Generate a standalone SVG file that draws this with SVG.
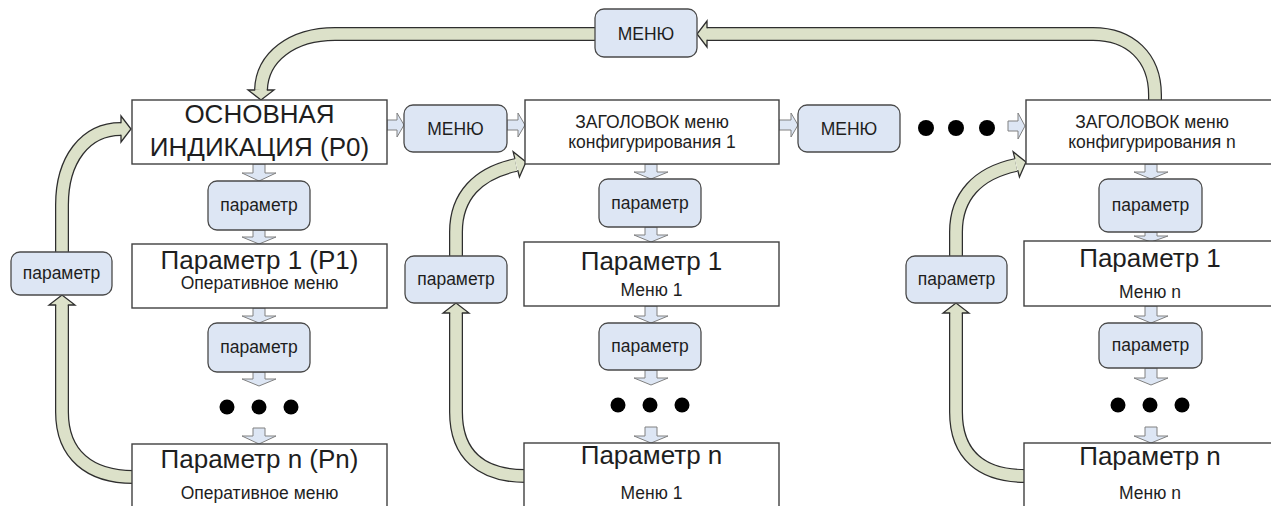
<svg xmlns="http://www.w3.org/2000/svg" width="1271" height="506" viewBox="0 0 1271 506">
<defs>
<style>
.box{fill:#ffffff;stroke:#404040;stroke-width:1.4}
.rb{fill:#dde6f4;stroke:#4a4a4a;stroke-width:1.3}
.ha{fill:#dde6f4;stroke:#808080;stroke-width:1}
.bo{fill:none;stroke:#2e2e2e;stroke-width:14}
.bi{fill:none;stroke:#dce1c9;stroke-width:11.5}
.bh{fill:#dce1c9;stroke:#2e2e2e;stroke-width:1.3;stroke-linejoin:miter}
.dot{fill:#000000}
text{font-family:"Liberation Sans",Arial,sans-serif;fill:#1e1e1e;text-anchor:middle}
.big{font-size:26px}
.mid{font-size:17.5px}
.sm{font-size:17.5px}
</style>
<path id="head" d="M -10 -5.8 L -10 -13 L 0 0 L -10 13 L -10 5.8"/>
</defs>

<g id="connectors">
  <!-- big return bands -->
  <path class="bo" d="M 1155 101 L 1155 95 C 1155 57 1130 34 1093 34 L 707 34"/>
  <path class="bi" d="M 1155 102 L 1155 95 C 1155 57 1130 34 1093 34 L 707 34"/>
  <use href="#head" class="bh" transform="translate(697 34) rotate(180)"/>
  <path class="bo" d="M 596 34 L 335 34 C 292 34 262 57 261 90"/>
  <path class="bi" d="M 597 34 L 335 34 C 292 34 262 57 261 90"/>
  <use href="#head" class="bh" transform="translate(261 100) rotate(90)"/>

  <!-- column 1 loop -->
  <path class="bo" d="M 133 477 C 90 477 62 455 62 412 L 62 305"/>
  <path class="bi" d="M 134 477 C 90 477 62 455 62 412 L 62 305"/>
  <use href="#head" class="bh" transform="translate(62 295) rotate(-90)"/>
  <path class="bo" d="M 62 253 L 62 205 C 62 160 85 129 121 129"/>
  <path class="bi" d="M 62 254 L 62 205 C 62 160 85 129 121 129"/>
  <use href="#head" class="bh" transform="translate(131 129)"/>

  <!-- column 2 loop -->
  <path class="bo" d="M 525 476 C 482 476 456 455 456 412 L 456 313"/>
  <path class="bi" d="M 526 476 C 482 476 456 455 456 412 L 456 313"/>
  <use href="#head" class="bh" transform="translate(456 303) rotate(-90)"/>
  <path class="bo" d="M 456 257 L 456 232 C 456 196 478 173 516 165"/>
  <path class="bi" d="M 456 258 L 456 232 C 456 196 478 173 516 165"/>
  <use href="#head" class="bh" transform="translate(526 162) rotate(-14)"/>

  <!-- column 3 loop -->
  <path class="bo" d="M 1025 476 C 982 476 956 455 956 412 L 956 313"/>
  <path class="bi" d="M 1026 476 C 982 476 956 455 956 412 L 956 313"/>
  <use href="#head" class="bh" transform="translate(956 303) rotate(-90)"/>
  <path class="bo" d="M 956 257 L 956 232 C 956 196 978 173 1016 165"/>
  <path class="bi" d="M 956 258 L 956 232 C 956 196 978 173 1016 165"/>
  <use href="#head" class="bh" transform="translate(1026 162) rotate(-14)"/>

  <!-- horizontal hollow arrows -->
  <path class="ha" d="M 387 120 H 397 V 113 L 404 125 L 397 137 V 130 H 387 Z"/>
  <path class="ha" d="M 507 120 H 518 V 113 L 525 125 L 518 137 V 130 H 507 Z"/>
  <path class="ha" d="M 779 120 H 791 V 113 L 798 125 L 791 137 V 130 H 779 Z"/>
  <path class="ha" d="M 1008 121 H 1018 V 113 L 1025 126 L 1018 139 V 131 H 1008 Z"/>

  <!-- column 1 down arrows -->
  <path class="ha" d="M 253 164 V 173 H 242 L 259 181 L 276 173 H 265 V 164 Z"/>
  <path class="ha" d="M 253 230 V 237 H 242 L 259 244 L 276 237 H 265 V 230 Z"/>
  <path class="ha" d="M 253 308 V 316 H 242 L 259 323 L 276 316 H 265 V 308 Z"/>
  <path class="ha" d="M 253 372 V 379 H 242 L 259 386 L 276 379 H 265 V 372 Z"/>
  <path class="ha" d="M 253 428 V 436 H 242 L 259 444 L 276 436 H 265 V 428 Z"/>

  <!-- column 2 down arrows -->
  <path class="ha" d="M 645 164 V 172 H 634 L 651 179 L 668 172 H 657 V 164 Z"/>
  <path class="ha" d="M 645 227 V 235 H 634 L 651 242 L 668 235 H 657 V 227 Z"/>
  <path class="ha" d="M 645 306 V 316 H 634 L 651 323 L 668 316 H 657 V 306 Z"/>
  <path class="ha" d="M 645 370 V 378 H 634 L 651 385 L 668 378 H 657 V 370 Z"/>
  <path class="ha" d="M 645 427 V 436 H 634 L 651 443 L 668 436 H 657 V 427 Z"/>

  <!-- column 3 down arrows -->
  <path class="ha" d="M 1145 164 V 172 H 1134 L 1151 179 L 1168 172 H 1157 V 164 Z"/>
  <path class="ha" d="M 1145 232 V 236 H 1134 L 1151 242 L 1168 236 H 1157 V 232 Z"/>
  <path class="ha" d="M 1145 306 V 316 H 1134 L 1151 323 L 1168 316 H 1157 V 306 Z"/>
  <path class="ha" d="M 1145 368 V 378 H 1134 L 1151 385 L 1168 378 H 1157 V 368 Z"/>
  <path class="ha" d="M 1145 427 V 436 H 1134 L 1151 443 L 1168 436 H 1157 V 427 Z"/>
</g>

<!-- column 1 -->
<g id="main">
  <rect class="box" x="132" y="100" width="255" height="64"/>
  <text class="big" x="259.5" y="123">ОСНОВНАЯ</text>
  <text class="big" x="259.5" y="156">ИНДИКАЦИЯ (P0)</text>
</g>
<g id="c1-par-a">
  <rect class="rb" x="208" y="181" width="102" height="49" rx="9"/>
  <text class="sm" x="259" y="211">параметр</text>
</g>
<g id="c1-p1">
  <rect class="box" x="132" y="244" width="255" height="64"/>
  <text class="big" x="259.5" y="269">Параметр 1 (P1)</text>
  <text class="mid" x="259.5" y="289">Оперативное меню</text>
</g>
<g id="c1-par-b">
  <rect class="rb" x="208" y="323" width="102" height="49" rx="9"/>
  <text class="sm" x="259" y="353">параметр</text>
</g>
<g id="c1-dots">
  <circle class="dot" cx="227" cy="407" r="7.5"/>
  <circle class="dot" cx="259" cy="407" r="7.5"/>
  <circle class="dot" cx="291" cy="407" r="7.5"/>
</g>
<g id="c1-pn">
  <rect class="box" x="132" y="444" width="255" height="70"/>
  <text class="big" x="259.5" y="468">Параметр n (Pn)</text>
  <text class="mid" x="259.5" y="499">Оперативное меню</text>
</g>
<g id="c1-loop-par">
  <rect class="rb" x="11" y="252" width="101" height="43" rx="9"/>
  <text class="sm" x="61.5" y="279">параметр</text>
</g>

<!-- menu boxes -->
<g id="menu-top">
  <rect class="rb" x="595" y="9" width="102" height="48" rx="9"/>
  <text class="sm" x="646" y="40">МЕНЮ</text>
</g>
<g id="menu-1">
  <rect class="rb" x="404" y="105" width="103" height="47" rx="9"/>
  <text class="sm" x="455.5" y="135">МЕНЮ</text>
</g>
<g id="menu-2">
  <rect class="rb" x="798" y="105" width="102" height="47" rx="9"/>
  <text class="sm" x="849" y="135">МЕНЮ</text>
</g>
<g id="top-dots">
  <circle class="dot" cx="926" cy="128" r="8"/>
  <circle class="dot" cx="956" cy="128" r="8"/>
  <circle class="dot" cx="987" cy="128" r="8"/>
</g>

<!-- column 2 -->
<g id="c2-head">
  <rect class="box" x="525" y="100" width="254" height="64"/>
  <text class="sm" x="652" y="128">ЗАГОЛОВОК меню</text>
  <text class="sm" x="652" y="148">конфигурирования 1</text>
</g>
<g id="c2-par-a">
  <rect class="rb" x="599" y="179" width="102" height="48" rx="9"/>
  <text class="sm" x="650" y="209">параметр</text>
</g>
<g id="c2-p1">
  <rect class="box" x="524" y="242" width="255" height="64"/>
  <text class="big" x="651.5" y="270">Параметр 1</text>
  <text class="mid" x="651.5" y="296">Меню 1</text>
</g>
<g id="c2-par-b">
  <rect class="rb" x="599" y="323" width="102" height="47" rx="9"/>
  <text class="sm" x="650" y="352">параметр</text>
</g>
<g id="c2-dots">
  <circle class="dot" cx="618" cy="405" r="7.5"/>
  <circle class="dot" cx="650" cy="405" r="7.5"/>
  <circle class="dot" cx="682" cy="405" r="7.5"/>
</g>
<g id="c2-pn">
  <rect class="box" x="524" y="443" width="255" height="70"/>
  <text class="big" x="651.5" y="464">Параметр n</text>
  <text class="mid" x="651.5" y="499">Меню 1</text>
</g>
<g id="c2-loop-par">
  <rect class="rb" x="405" y="256" width="102" height="47" rx="9"/>
  <text class="sm" x="456" y="285">параметр</text>
</g>

<!-- column 3 -->
<g id="c3-head">
  <rect class="box" x="1026" y="100" width="254" height="64"/>
  <text class="sm" x="1152" y="128">ЗАГОЛОВОК меню</text>
  <text class="sm" x="1152" y="148">конфигурирования n</text>
</g>
<g id="c3-par-a">
  <rect class="rb" x="1099" y="179" width="103" height="53" rx="9"/>
  <text class="sm" x="1150.5" y="211">параметр</text>
</g>
<g id="c3-p1">
  <rect class="box" x="1024" y="241" width="256" height="65"/>
  <text class="big" x="1150" y="267">Параметр 1</text>
  <text class="mid" x="1150" y="298">Меню n</text>
</g>
<g id="c3-par-b">
  <rect class="rb" x="1099" y="323" width="103" height="45" rx="9"/>
  <text class="sm" x="1150.5" y="351">параметр</text>
</g>
<g id="c3-dots">
  <circle class="dot" cx="1118" cy="405" r="7.5"/>
  <circle class="dot" cx="1150" cy="405" r="7.5"/>
  <circle class="dot" cx="1182" cy="405" r="7.5"/>
</g>
<g id="c3-pn">
  <rect class="box" x="1024" y="443" width="256" height="70"/>
  <text class="big" x="1150" y="465">Параметр n</text>
  <text class="mid" x="1150" y="499">Меню n</text>
</g>
<g id="c3-loop-par">
  <rect class="rb" x="906" y="256" width="101" height="47" rx="9"/>
  <text class="sm" x="956.5" y="285">параметр</text>
</g>
</svg>
